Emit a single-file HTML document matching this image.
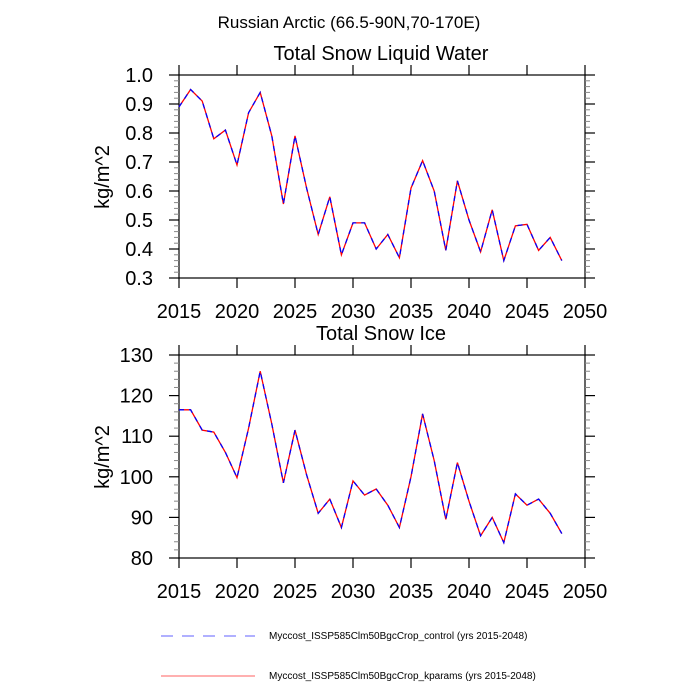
<!DOCTYPE html>
<html><head><meta charset="utf-8"><style>
html,body{margin:0;padding:0;background:#fff;}
svg{display:block;font-family:"Liberation Sans",sans-serif;}
</style></head><body>
<svg id="s" width="700" height="700" xmlns="http://www.w3.org/2000/svg">
<rect width="700" height="700" fill="#fff"/>
<text x="349" y="28" font-size="17" text-anchor="middle">Russian Arctic (66.5-90N,70-170E)</text>
<text x="381" y="60" font-size="20" text-anchor="middle">Total Snow Liquid Water</text>
<text x="381" y="340" font-size="20" text-anchor="middle">Total Snow Ice</text>
<text transform="translate(109,177) rotate(-90)" font-size="20" text-anchor="middle">kg/m^2</text>
<text transform="translate(109,457) rotate(-90)" font-size="20" text-anchor="middle">kg/m^2</text>
<g id="g"></g>
<line x1="161" y1="636" x2="255" y2="636" stroke="#6060ff" stroke-width="1" stroke-dasharray="12,9"/>
<text x="269" y="639" font-size="10">Myccost_ISSP585Clm50BgcCrop_control (yrs 2015-2048)</text>
<line x1="161" y1="676" x2="255" y2="676" stroke="#ff6060" stroke-width="1"/>
<text x="269" y="679" font-size="10">Myccost_ISSP585Clm50BgcCrop_kparams (yrs 2015-2048)</text>
</svg>
<script>
var g=document.getElementById('g'),h='';
var L=179,R=585;
function X(y){return L+(y-2015)*(R-L)/35;}
function plot(top,bot,ymin,ymax,maj,nmin,labs,data){
 function Y(v){return bot-(v-ymin)*(bot-top)/(ymax-ymin);}
 h+='<rect x="'+L+'" y="'+top+'" width="'+(R-L)+'" height="'+(bot-top)+'" fill="none" stroke="#000" stroke-width="1.2"/>';
 for(var yr=2015;yr<=2050;yr+=5){var x=X(yr);
  h+='<line x1="'+x+'" y1="'+top+'" x2="'+x+'" y2="'+(top-10)+'" stroke="#000" stroke-width="1.2"/>';
  h+='<line x1="'+x+'" y1="'+bot+'" x2="'+x+'" y2="'+(bot+10)+'" stroke="#000" stroke-width="1.2"/>';
  h+='<text x="'+x+'" y="'+(bot+40)+'" font-size="20" text-anchor="middle">'+yr+'</text>';}
 var n=Math.round((ymax-ymin)/maj);
 for(var i=0;i<=n;i++){var v=ymin+i*maj,y=Y(v);
  h+='<line x1="'+(L-10)+'" y1="'+y+'" x2="'+L+'" y2="'+y+'" stroke="#000" stroke-width="1.2"/>';
  h+='<line x1="'+R+'" y1="'+y+'" x2="'+(R+10)+'" y2="'+y+'" stroke="#000" stroke-width="1.2"/>';
  h+='<text x="'+(L-26)+'" y="'+(y+7)+'" font-size="20" text-anchor="end">'+labs[i]+'</text>';
  if(i<n)for(var k=1;k<nmin;k++){var ym=Y(v+maj*k/nmin);
   h+='<line x1="'+(L-5)+'" y1="'+ym+'" x2="'+L+'" y2="'+ym+'" stroke="#888" stroke-width="1"/>';
   h+='<line x1="'+R+'" y1="'+ym+'" x2="'+(R+5)+'" y2="'+ym+'" stroke="#888" stroke-width="1"/>';}}
 var p=data.map(function(v,i){return X(2015+i).toFixed(1)+','+Y(v).toFixed(1);}).join(' ');
 h+='<polyline points="'+p+'" fill="none" stroke="#ff0000" stroke-width="1.3"/>';
 h+='<polyline points="'+p+'" fill="none" stroke="#0000ff" stroke-width="1.3" stroke-dasharray="5,5"/>';
}
plot(75,278,0.3,1.0,0.1,5,['0.3','0.4','0.5','0.6','0.7','0.8','0.9','1.0'],
[0.89,0.95,0.91,0.78,0.81,0.69,0.87,0.94,0.79,0.555,0.79,0.61,0.45,0.58,0.38,0.49,0.49,0.40,0.45,0.37,0.61,0.705,0.60,0.395,0.635,0.50,0.39,0.535,0.36,0.48,0.485,0.395,0.44,0.36]);
plot(355,558,80,130,10,5,['80','90','100','110','120','130'],
[116.5,116.5,111.5,111,106,99.8,112,126,113,98.5,111.5,100.5,91,94.5,87.5,99,95.5,97,93,87.5,100,115.5,104,89.5,103.5,94,85.5,90,83.8,95.8,93,94.5,91,86]);
g.innerHTML=h;
</script>
</body></html>
